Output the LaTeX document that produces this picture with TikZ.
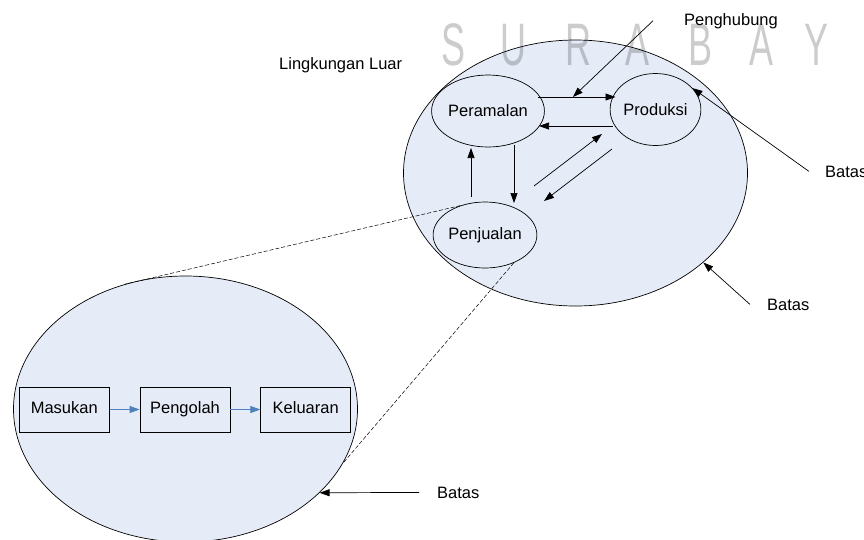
\documentclass[tikz,border=0pt]{standalone}
\usepackage{fontspec}
\setmainfont{Liberation Sans}
\usetikzlibrary{positioning, calc, arrows.meta, shapes.geometric}
\definecolor{isibiru}{RGB}{230,236,247}
\definecolor{panahbiru}{RGB}{79,129,189}

\begin{document}
\begin{tikzpicture}[
    x=1pt, y=-1pt,
    batas_elips/.style={ellipse, draw, fill=isibiru, minimum width=344pt, minimum height=266pt, line width=0.7pt},
    proses/.style={ellipse, draw, line width=0.7pt, inner sep=0pt, font=\fontsize{16.5}{19}\selectfont},
    kotak/.style={rectangle, draw, fill=isibiru, minimum width=90pt, minimum height=45pt, text height=11.5pt, text depth=3.5pt, line width=0.7pt, font=\fontsize{16.5}{19}\selectfont},
    panah/.style={-{Triangle[length=10pt, width=7pt]}, line width=0.7pt},
    panah_biru/.style={-{Triangle[length=10pt, width=7pt]}, line width=0.7pt, panahbiru},
    putus/.style={line width=0.5pt, dash pattern=on 4pt off 2pt},
    label_style/.style={font=\fontsize{16.5}{19}\selectfont, anchor=base west, inner sep=2pt},
    tanda_air/.style={font=\fontsize{60}{60}\selectfont, anchor=base, inner sep=0pt, text=black, text opacity=0.2},
    node distance=30pt
]
    \useasboundingbox (0,0) rectangle (864,539);

    % Lingkungan dan sistem
    \node[batas_elips] (lingkungan) at (575.5,173) {};
    \node[batas_elips] (sistem) at (185.5,409) {};

    % Subsistem
    \node[proses, minimum width=92pt, minimum height=72pt] (peramalan) at (488,111) {Peramalan};
    \node[proses, minimum width=88pt, minimum height=72pt] (produksi) at (655.5,109.5) {Produksi};
    \node[proses, minimum width=88pt, minimum height=66pt] (penjualan) at (485,235) {Penjualan};

    % Masukan - pengolah - keluaran
    \node[kotak] (pengolah) at (185,409.5) {Pengolah};
    \node[kotak, left=of pengolah] (masukan) {Masukan};
    \node[kotak, right=of pengolah] (keluaran) {Keluaran};
    \draw[panah_biru] (masukan) -- (pengolah);
    \draw[panah_biru] (pengolah) -- (keluaran);

    % Garis perbesaran
    \draw[putus] (penjualan.130) -- (sistem.116);
    \draw[putus] (penjualan.-44) -- (sistem.-19);

    % Aliran antar subsistem
    \draw[panah] ($(peramalan.center)+(50,-14)$) -- coordinate[pos=0.45] (titik_hubung) ($(produksi.center)+(-40,-12.5)$);
    \draw[panah] ($(produksi.center)+(-42.5,16.5)$) -- ($(peramalan.center)+(51,15)$);
    \draw[panah] ($(peramalan.center)+(26,34)$) -- ($(penjualan.center)+(29,-32)$);
    \draw[panah] ($(penjualan.center)+(-14,-38)$) -- ($(peramalan.center)+(-17,37)$);
    \draw[panah] ($(penjualan.center)+(49,-49)$) -- ($(produksi.center)+(-53.5,24.5)$);
    \draw[panah] ($(produksi.center)+(-43.5,39.5)$) -- ($(penjualan.center)+(59,-34)$);

    % Keterangan
    \node[label_style] (luar) at (277,69) {Lingkungan Luar};
    \node[label_style] (penghubung) at (682,25) {Penghubung};
    \node[label_style] (batas_kanan) at (823,177) {Batas};
    \node[label_style] (batas_luar) at (765,310) {Batas};
    \node[label_style] (batas_sistem) at (435,498) {Batas};
    \draw[panah] ($(penghubung.west)+(-29,0)$) -- (titik_hubung);
    \draw[panah] ($(batas_kanan.west)+(-14,0)$) -- (produksi.30);
    \draw[panah] ($(batas_luar.west)+(-15,0)$) -- (lingkungan.-35);
    \draw[panah] ($(batas_sistem.west)+(-16,0)$) -- (sistem.-32);

    % Tanda air
    \foreach \huruf/\px in {S/453, U/513, R/578, A/637, B/700, A/761, Y/816, A/877}
        \node[tanda_air] (air\px) at (\px,65) {\scalebox{0.6}[1]{\huruf}};
\end{tikzpicture}
\end{document}
